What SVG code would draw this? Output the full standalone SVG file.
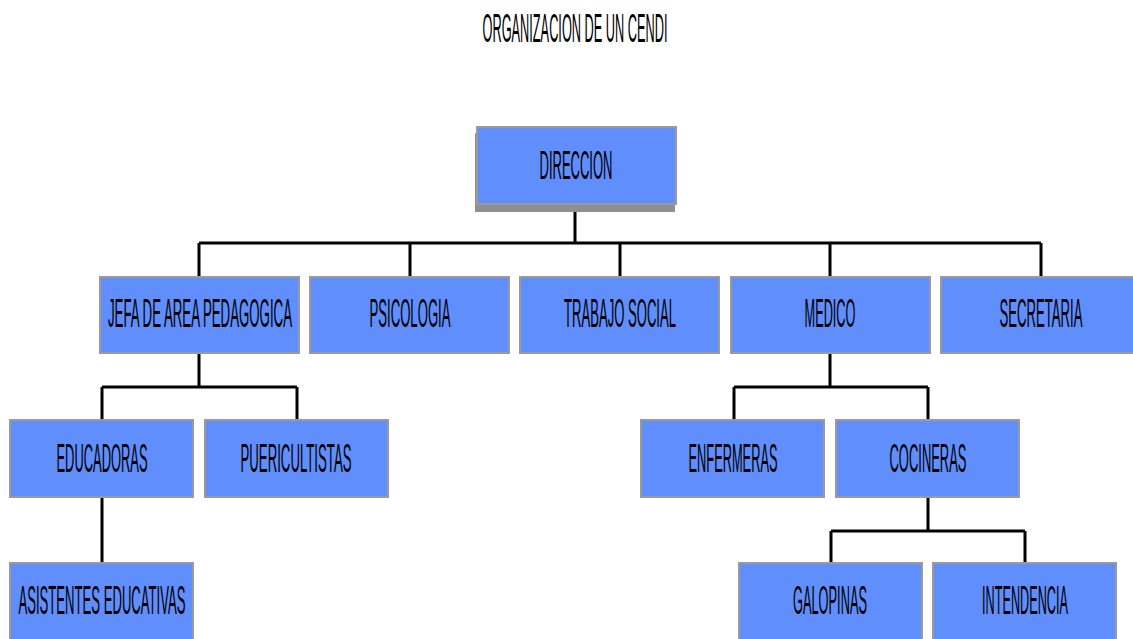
<svg xmlns="http://www.w3.org/2000/svg" width="1133" height="639" viewBox="0 0 1133 639">
<style>
.box{fill:#608efd;stroke:#9a9a9a;stroke-width:2}
.lbl{font-family:"Liberation Sans",Arial,sans-serif;font-size:40px;fill:#000;text-anchor:middle}
.con{stroke:#000;stroke-width:3;fill:none}
</style>
<rect width="1133" height="639" fill="#fff"/>
<text class="lbl" transform="translate(575,42) scale(0.33,1)" font-size="42" textLength="560.6" lengthAdjust="spacingAndGlyphs">ORGANIZACION DE UN CENDI</text>
<g id="connectors">
<path class="con" d="M575,204V243M199,243H1041M199,243V277M410,243V277M620,243V277M830,243V277M1041,243V277"/>
<path class="con" d="M199,353V387M102,387H297M102,387V420M297,387V420"/>
<path class="con" d="M102,497V563"/>
<path class="con" d="M830,353V387M734,387H928M734,387V420M928,387V420"/>
<path class="con" d="M928,497V531M831,531H1025M831,531V563M1025,531V563"/>
</g>
<g id="direccion">
<rect x="475" y="133" width="200" height="79" fill="#8f8f8f"/>
<rect class="box" x="477" y="127" width="199" height="77"/>
<text class="lbl" transform="translate(576,179) scale(0.33,1)" textLength="221.2" lengthAdjust="spacingAndGlyphs">DIRECCION</text>
</g>
<g id="jefa">
<rect class="box" x="100" y="277" width="199" height="76"/>
<text class="lbl" transform="translate(200,327) scale(0.33,1)" textLength="557.6" lengthAdjust="spacingAndGlyphs">JEFA DE AREA PEDAGOGICA</text>
</g>
<g id="psicologia">
<rect class="box" x="310" y="277" width="199" height="76"/>
<text class="lbl" transform="translate(410,327) scale(0.33,1)" textLength="245.5" lengthAdjust="spacingAndGlyphs">PSICOLOGIA</text>
</g>
<g id="trabajo-social">
<rect class="box" x="520" y="277" width="199" height="76"/>
<text class="lbl" transform="translate(620,327) scale(0.33,1)" textLength="339.4" lengthAdjust="spacingAndGlyphs">TRABAJO SOCIAL</text>
</g>
<g id="medico">
<rect class="box" x="731" y="277" width="199" height="76"/>
<text class="lbl" transform="translate(830,327) scale(0.33,1)" textLength="154.5" lengthAdjust="spacingAndGlyphs">MEDICO</text>
</g>
<g id="secretaria">
<rect class="box" x="941" y="277" width="199" height="76"/>
<text class="lbl" transform="translate(1041,327) scale(0.33,1)" textLength="251.5" lengthAdjust="spacingAndGlyphs">SECRETARIA</text>
</g>
<g id="educadoras">
<rect class="box" x="10" y="420" width="183" height="77"/>
<text class="lbl" transform="translate(102,472) scale(0.33,1)" textLength="275.8" lengthAdjust="spacingAndGlyphs">EDUCADORAS</text>
</g>
<g id="puericultistas">
<rect class="box" x="205" y="420" width="183" height="77"/>
<text class="lbl" transform="translate(296,472) scale(0.33,1)" textLength="336.4" lengthAdjust="spacingAndGlyphs">PUERICULTISTAS</text>
</g>
<g id="enfermeras">
<rect class="box" x="641" y="420" width="183" height="77"/>
<text class="lbl" transform="translate(733,472) scale(0.33,1)" textLength="269.7" lengthAdjust="spacingAndGlyphs">ENFERMERAS</text>
</g>
<g id="cocineras">
<rect class="box" x="836" y="420" width="183" height="77"/>
<text class="lbl" transform="translate(928,472) scale(0.33,1)" textLength="233.3" lengthAdjust="spacingAndGlyphs">COCINERAS</text>
</g>
<g id="asistentes">
<rect class="box" x="10" y="563" width="183" height="80"/>
<text class="lbl" transform="translate(102,614) scale(0.33,1)" textLength="506.1" lengthAdjust="spacingAndGlyphs">ASISTENTES EDUCATIVAS</text>
</g>
<g id="galopinas">
<rect class="box" x="739" y="563" width="183" height="80"/>
<text class="lbl" transform="translate(830,614) scale(0.33,1)" textLength="224.2" lengthAdjust="spacingAndGlyphs">GALOPINAS</text>
</g>
<g id="intendencia">
<rect class="box" x="933" y="563" width="183" height="80"/>
<text class="lbl" transform="translate(1025,614) scale(0.33,1)" textLength="260.6" lengthAdjust="spacingAndGlyphs">INTENDENCIA</text>
</g>
</svg>
